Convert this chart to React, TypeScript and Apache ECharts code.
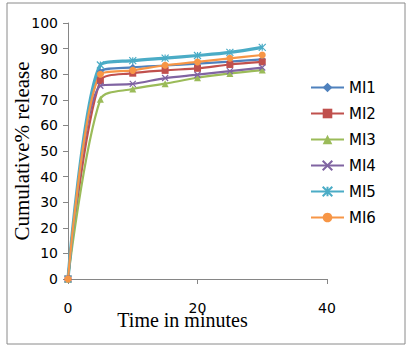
import React, { useEffect, useRef } from "react";
import * as echarts from "echarts";

const times = [0, 5, 10, 15, 20, 25, 30];
const seriesNames = ["MI1", "MI2", "MI3", "MI4", "MI5", "MI6"];
const mi1 = [0, 81.0, 82.7, 83.4, 84.1, 84.9, 85.8];
const mi2 = [0, 77.5, 80.4, 81.5, 82.3, 83.8, 84.8];
const mi3 = [0, 70.2, 74.2, 76.3, 78.6, 80.3, 81.6];
const mi4 = [0, 75.5, 76.2, 78.5, 79.8, 81.2, 82.6];
const mi5 = [0, 83.6, 85.3, 86.3, 87.3, 88.5, 90.5];
const mi6 = [0, 80.0, 81.5, 83.5, 84.8, 86.2, 87.5];
const yTicks = [0, 10, 20, 30, 40, 50, 60, 70, 80, 90, 100];
const xTicks = [0, 20, 40];

const colors = ["#4F81BD", "#C0504D", "#9BBB59", "#8064A2", "#4BACC6", "#F79646"];
const xPath = "path://M0,0L10,10M10,0L0,10";
const starPath = "path://M0,0L10,10M10,0L0,10M5,0L5,10";
const symbols = ["diamond", "rect", "triangle", xPath, starPath, "circle"];
const symbolSizes = [7, 7, 7, 6, 7, 7];
const widths = [2.2, 2.2, 2.2, 2.2, 3.2, 2.2];

export default function App() {
  const ref = useRef<HTMLDivElement>(null);
  useEffect(() => {
    document.body.style.margin = "0";
    const chart = echarts.init(ref.current!, null, { renderer: "svg" });
    const all = [mi1, mi2, mi3, mi4, mi5, mi6];
    chart.setOption({
      animation: false,
      backgroundColor: "#ffffff",
      grid: { left: 68, right: 84, top: 23, bottom: 69, outerBoundsMode: "none", containLabel: false },
      legend: {
        orient: "vertical",
        left: 305,
        top: 75,
        padding: 5,
        itemWidth: 33,
        itemHeight: 12,
        itemGap: 11,
        data: seriesNames,
        textStyle: { fontFamily: "DejaVu Sans", fontSize: 15, color: "#000" },
      },
      xAxis: {
        type: "value",
        min: xTicks[0],
        max: xTicks[xTicks.length - 1],
        interval: 20,
        name: "Time in minutes",
        nameLocation: "middle",
        nameGap: 31,
        nameMoveOverlap: false,
        nameTextStyle: { fontFamily: "Liberation Serif", fontSize: 20, color: "#000", align: "center", padding: [0, 30, 0, 0] },
        axisLine: { lineStyle: { color: "#868686", width: 1 } },
        axisTick: { show: true, length: 5, lineStyle: { color: "#868686" } },
        axisLabel: { margin: 22, fontFamily: "DejaVu Sans", fontSize: 14, color: "#000" },
        splitLine: { show: false },
      },
      yAxis: {
        type: "value",
        min: yTicks[0],
        max: yTicks[yTicks.length - 1],
        interval: 10,
        name: "Cumulative% release",
        nameLocation: "middle",
        nameGap: 36,
        nameMoveOverlap: false,
        nameTextStyle: { fontFamily: "Liberation Serif", fontSize: 21, color: "#000" },
        axisLine: { show: true, lineStyle: { color: "#868686", width: 1 } },
        axisTick: { show: true, length: 5, lineStyle: { color: "#868686" } },
        axisLabel: { margin: 10, fontFamily: "DejaVu Sans", fontSize: 14, color: "#000" },
        splitLine: { show: false },
      },
      graphic: [
        {
          type: "rect",
          shape: { x: 7, y: 3, width: 398, height: 341 },
          style: { fill: "none", stroke: "#8a8a8a", lineWidth: 1 },
          silent: true,
        },
      ],
      series: seriesNames.map((name, i) => ({
        name,
        type: "line",
        smooth: 0.3,
        data: times.map((t, j) => [t, all[i][j]]),
        symbol: symbols[i],
        symbolSize: symbolSizes[i],
        color: colors[i],
        lineStyle: { width: widths[i], color: colors[i] },
        itemStyle: { color: colors[i], borderColor: colors[i], borderWidth: i === 3 || i === 4 ? 1.2 : 0 },
      })),
    });
    return () => chart.dispose();
  }, []);
  return <div ref={ref} style={{ width: 411, height: 348 }} />;
}
